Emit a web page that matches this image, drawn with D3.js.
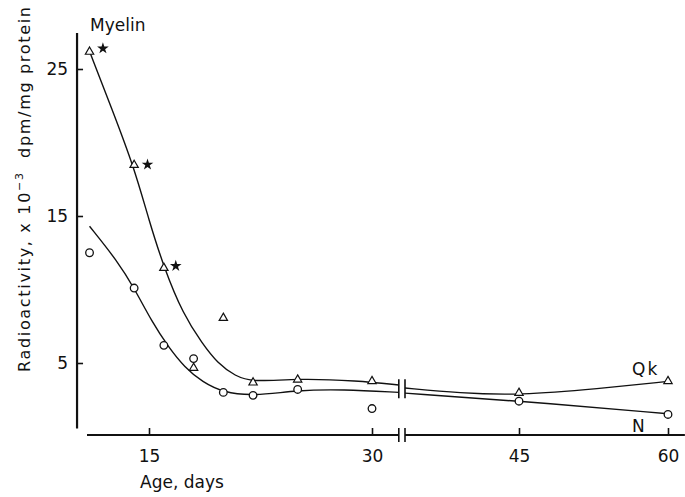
<!DOCTYPE html>
<html>
<head>
<meta charset="utf-8">
<script src="https://cdn.jsdelivr.net/npm/d3@7"></script>
<style>
  body { margin: 0; background: #fff; }
  svg { display: block; }
  text { font-family: "DejaVu Sans", "Liberation Sans", sans-serif; fill: #111; }
  .tick line { stroke: #111; stroke-width: 1.6; }
  .tick text { font-size: 16px; }
</style>
</head>
<body>
<svg id="chart" width="685" height="497"></svg>
<script>
// measured points (ages in days, radioactivity x 10^-3 dpm/mg protein)
const days = [11, 14, 16, 18, 20, 22, 25, 30, 45, 60];
const quaking = [26.2, 18.5, 11.5, 4.7, 8.1, 3.7, 3.9, 3.8, 3.0, 3.8];
const normal = [12.5, 10.1, 6.2, 5.3, 3.0, 2.8, 3.2, 1.9, 2.4, 1.5];

// asterisks next to the early quaking values
const starDays = [11.9, 14.9, 16.8];
const starValues = [26.4, 18.5, 11.6];

// hand drawn fitted curves, split at the axis break
const qkFitDays1 = [11, 12.5, 14, 15, 16, 17.3, 18.6, 19.6, 20.8, 22, 25, 29, 31.8];
const qkFit1 = [26.2, 22.3, 18.3, 14.7, 11.5, 8.3, 6.3, 5.0, 4.1, 3.7, 3.95, 3.8, 3.5];
const qkFitDays2 = [33.5, 39, 45, 53, 60];
const qkFit2 = [3.3, 2.95, 2.8, 3.25, 3.75];

const nFitDays1 = [11, 12.9, 14, 15.2, 16.3, 17.4, 18.6, 20, 22, 25, 28, 31.8];
const nFit1 = [14.3, 11.9, 10.1, 7.8, 6.1, 4.7, 3.7, 3.0, 2.75, 3.15, 3.2, 3.0];
const nFitDays2 = [33.5, 45, 60];
const nFit2 = [2.95, 2.42, 1.55];

const xTicks = [15, 30, 45, 60];
const yTicks = [5, 15, 25];
const breakStart = 31.8, breakEnd = 33.5;

const svg = d3.select('#chart');

// broken x axis: two linear pieces joined at the break marks
var x = d3.scaleLinear()
    .domain([15, 30, breakStart, breakEnd, 45, 60])
    .range([149, 372, 398.8, 405, 519, 668]);

var y = d3.scaleLinear()
    .domain([5, 25])
    .range([363, 69]);

const axisY = 435;
const xMin = 10.83, xMax = 61.7;
const yMin = 0.55, yMax = 27.45;

// x axis
var xAxis = svg.append('g')
    .attr('transform', 'translate(0,' + axisY + ')')
    .call(d3.axisBottom(x).tickValues(xTicks).tickSizeInner(-7).tickSizeOuter(0).tickFormat(d3.format('d')))
    .call(g => g.select('.domain').remove());
xAxis.selectAll('.tick text').attr('y', 27).attr('dy', 0).style('font-size', '17px');

svg.append('line')
    .attr('x1', x(xMin)).attr('x2', x(breakStart))
    .attr('y1', axisY).attr('y2', axisY)
    .attr('stroke', '#111').attr('stroke-width', 1.8);
svg.append('line')
    .attr('x1', x(breakEnd)).attr('x2', x(xMax))
    .attr('y1', axisY).attr('y2', axisY)
    .attr('stroke', '#111').attr('stroke-width', 1.8);

// y axis
var yAxis = svg.append('g')
    .attr('transform', 'translate(' + x(xMin - 0.67) + ',0)')
    .call(d3.axisLeft(y).tickValues(yTicks).tickSizeInner(-6).tickSizeOuter(0).tickPadding(9))
    .call(g => g.select('.domain').remove());
yAxis.selectAll('.tick text').style('font-size', '17px');

svg.append('line')
    .attr('x1', x(xMin - 0.67)).attr('x2', x(xMin - 0.67))
    .attr('y1', y(yMax)).attr('y2', y(yMin))
    .attr('stroke', '#111').attr('stroke-width', 2.2);

// fitted curves
var line = d3.line()
    .x(d => x(d[0]))
    .y(d => y(d[1]))
    .curve(d3.curveBasis);

var fits = [
    d3.zip(qkFitDays1, qkFit1),
    d3.zip(qkFitDays2, qkFit2),
    d3.zip(nFitDays1, nFit1),
    d3.zip(nFitDays2, nFit2)
];

svg.append('g')
    .selectAll('path')
    .data(fits)
    .enter()
    .append('path')
    .attr('d', line)
    .attr('fill', 'none')
    .attr('stroke', '#111')
    .attr('stroke-width', 1.4);

// break marks on curves and on the axis
[breakStart, breakEnd].forEach(function(b) {
    svg.append('line')
        .attr('x1', x(b)).attr('x2', x(b))
        .attr('y1', y(3.9)).attr('y2', y(2.6))
        .attr('stroke', '#111').attr('stroke-width', 1.6);
    svg.append('line')
        .attr('x1', x(b)).attr('x2', x(b))
        .attr('y1', axisY - 7).attr('y2', axisY + 7)
        .attr('stroke', '#111').attr('stroke-width', 1.6);
});

// points
var tri = d3.symbol().type(d3.symbolTriangle).size(30);
svg.append('g')
    .selectAll('path')
    .data(d3.zip(days, quaking))
    .enter()
    .append('path')
    .attr('transform', d => 'translate(' + x(d[0]) + ',' + (y(d[1]) + 0.5) + ')')
    .attr('d', tri)
    .attr('fill', '#fff')
    .attr('stroke', '#111')
    .attr('stroke-width', 1.2);

svg.append('g')
    .selectAll('circle')
    .data(d3.zip(days, normal))
    .enter()
    .append('circle')
    .attr('cx', d => x(d[0]))
    .attr('cy', d => y(d[1]))
    .attr('r', 3.8)
    .attr('fill', '#fff')
    .attr('stroke', '#111')
    .attr('stroke-width', 1.3);

var star = d3.symbol().type(d3.symbolStar).size(42);
svg.append('g')
    .selectAll('path')
    .data(d3.zip(starDays, starValues))
    .enter()
    .append('path')
    .attr('transform', d => 'translate(' + x(d[0]) + ',' + y(d[1]) + ')')
    .attr('d', star)
    .attr('fill', '#111');

// labels
svg.append('text')
    .attr('x', 90).attr('y', 31)
    .style('font-size', '17px')
    .text('Myelin');

svg.append('text')
    .attr('x', 632).attr('y', 375)
    .style('font-size', '17px')
    .style('letter-spacing', '2px')
    .text('Qk');

svg.append('text')
    .attr('x', 632).attr('y', 432)
    .style('font-size', '17px')
    .text('N');

svg.append('text')
    .attr('x', 140).attr('y', 488)
    .style('font-size', '17px')
    .text('Age, days');

var title = svg.append('text')
    .attr('transform', 'translate(30,372) rotate(-90)')
    .attr('textLength', 365)
    .attr('lengthAdjust', 'spacing')
    .style('font-size', '16px');
title.append('tspan').text('Radioactivity, x 10');
title.append('tspan').attr('dy', -7).style('font-size', '11px').text('\u22123');
title.append('tspan').attr('dy', 7).text('\u00a0 dpm/mg protein');
</script>
</body>
</html>
